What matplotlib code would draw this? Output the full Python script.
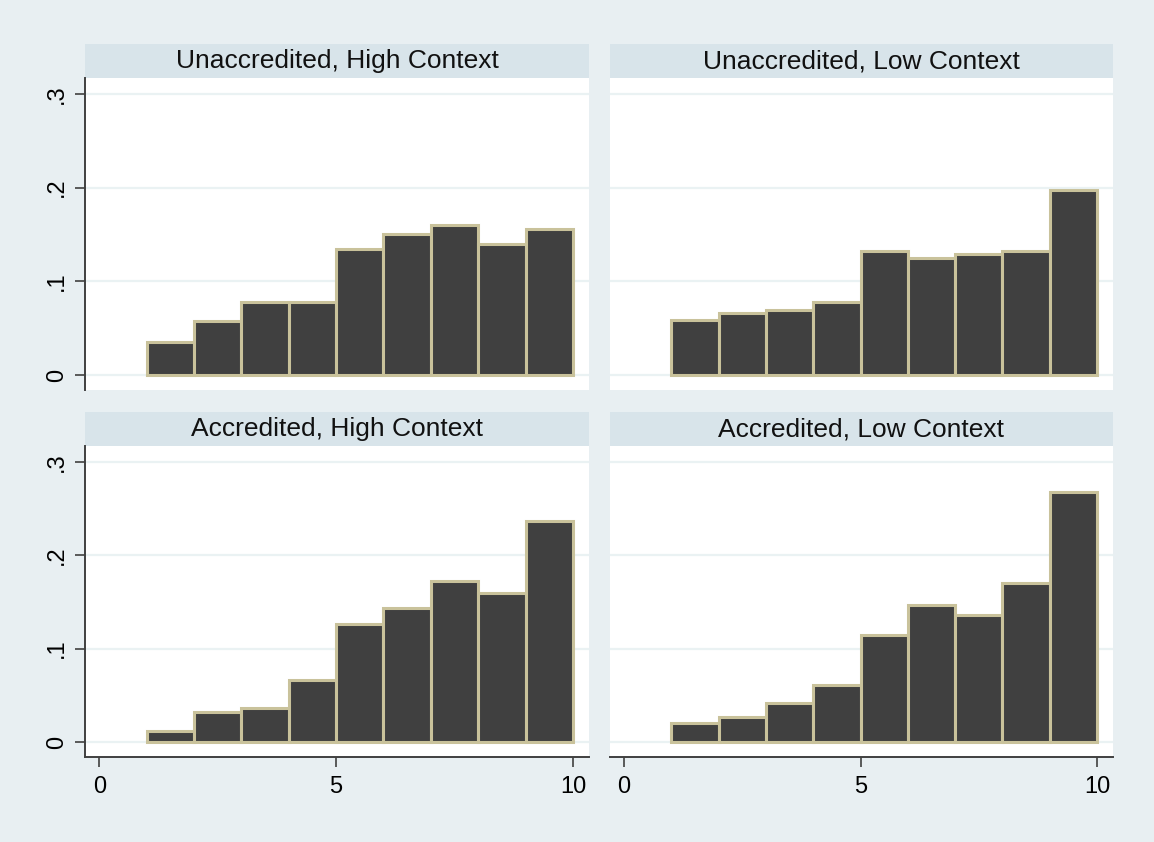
import matplotlib.pyplot as plt
from matplotlib.patches import Rectangle

plt.rcParams['font.family'] = ['Liberation Sans', 'DejaVu Sans']

# histogram bins: left edges, width 1
bin_left = [1, 2, 3, 4, 5, 6, 7, 8, 9]

panel_titles = ['Unaccredited, High Context', 'Unaccredited, Low Context',
                'Accredited, High Context', 'Accredited, Low Context']

unacc_high = [0.035, 0.058, 0.078, 0.078, 0.135, 0.150, 0.160, 0.140, 0.156]
unacc_low = [0.059, 0.066, 0.069, 0.078, 0.132, 0.125, 0.129, 0.132, 0.197]
acc_high = [0.012, 0.032, 0.036, 0.066, 0.126, 0.144, 0.172, 0.160, 0.237]
acc_low = [0.020, 0.027, 0.042, 0.061, 0.115, 0.147, 0.136, 0.170, 0.268]

y_ticks = [0, 0.1, 0.2, 0.3]
y_tick_labels = ['0', '.1', '.2', '.3']
x_ticks = [0, 5, 10]
x_tick_labels = ['0', '5', '10']

bg = '#E8EFF2'
strip_col = '#D8E4EA'
grid_col = '#EAF2F3'
bar_col = '#404040'
edge_col = '#C9C29B'

fig = plt.figure(figsize=(11.54, 8.42), dpi=100)
fig.patch.set_facecolor(bg)

W, H = 1154, 842
# pixel boxes (left, top, right, bottom) of each plot region
boxes = [(85, 78, 589, 390), (610, 78, 1113, 390),
         (85, 446, 589, 757), (610, 446, 1113, 757)]
series = [unacc_high, unacc_low, acc_high, acc_low]
strip_h = 34

for i, (box, vals, title) in enumerate(zip(boxes, series, panel_titles)):
    l, t, r, b = box
    ax = fig.add_axes([l / W, 1 - b / H, (r - l) / W, (b - t) / H])
    ax.set_facecolor('white')
    ax.bar(bin_left, vals, width=1, align='edge', color=bar_col,
           edgecolor=edge_col, linewidth=2.2, zorder=3)
    ax.set_xlim(-0.3, 10.34)
    ax.set_ylim(-0.016, 0.317)
    ax.set_yticks(y_ticks)
    ax.set_xticks(x_ticks)
    for y in y_ticks:
        ax.axhline(y, color=grid_col, lw=1.6, zorder=1)

    left_col = i % 2 == 0
    bottom_row = i >= 2
    for s in ['top', 'right']:
        ax.spines[s].set_visible(False)
    ax.spines['left'].set_visible(left_col)
    ax.spines['bottom'].set_visible(bottom_row)
    for s in ['left', 'bottom']:
        ax.spines[s].set_color('#404040')
        ax.spines[s].set_linewidth(1.4)

    if left_col:
        ax.set_yticklabels(y_tick_labels, rotation=90, va='center', fontsize=17)
        ax.tick_params(axis='y', length=7.5, width=1.2, color='#404040', pad=5)
    else:
        ax.tick_params(axis='y', left=False, labelleft=False)
    if bottom_row:
        ax.set_xticklabels(x_tick_labels, fontsize=17)
        ax.tick_params(axis='x', length=7.5, width=1.2, color='#404040', pad=6)
    else:
        ax.tick_params(axis='x', bottom=False, labelbottom=False)

    # strip title above plot region
    sh = strip_h / (b - t)
    ax.add_patch(Rectangle((0, 1), 1, sh, transform=ax.transAxes,
                           facecolor=strip_col, edgecolor='none', clip_on=False))
    ax.text(0.5, 1 + sh / 2, title, transform=ax.transAxes, ha='center',
            va='center', fontsize=19, color='#111111')

plt.savefig('out.png', dpi=100, facecolor=fig.get_facecolor())
